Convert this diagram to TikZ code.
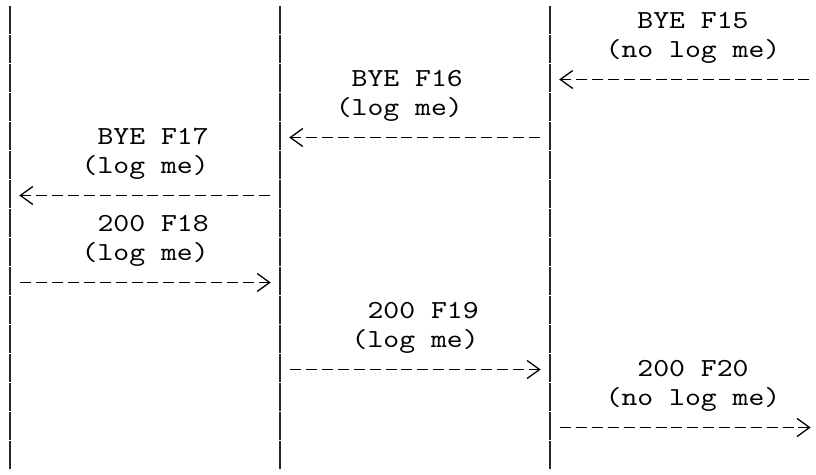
\documentclass[tikz,border=0pt]{standalone}
\usepackage{fontspec}
\newfontfamily\monofont{lmmono10-regular.otf}[FakeStretch=1.163]
\usetikzlibrary{arrows.meta}
\begin{document}
\begin{tikzpicture}[x=15.88bp,y=-29bp,every node/.style={font=\monofont\fontsize{26bp}{29bp}\selectfont,inner sep=0pt,anchor=base west},
  lane/.style={line width=1.3bp,black!85,dash pattern=on 28bp off 1bp},
  msg/.style={line width=1.3bp,dash pattern=on 11bp off 4.88bp,-{Straight Barb[length=12.5bp,width=18bp]}}]
\useasboundingbox (0,0) rectangle (51.385,16.345);
\foreach \c/\n in {0.63/la,17.63/lb,34.63/lc} {\coordinate (\n top) at (\c,0.207); \coordinate (\n bot) at (\c,16.207); \draw[lane] (\n top) -- (\n bot);}
\node (f15) at (40.13,0.966) {BYE F15}; \node (f15n) at (38.13,1.966) {(no log me)};
\node (f16) at (22.13,2.966) {BYE F16}; \node (f16n) at (21.13,3.966) {(log me)};
\node (f17) at (6.13,4.966) {BYE F17}; \node (f17n) at (5.13,5.966) {(log me)};
\node (f18) at (6.13,7.966) {200 F18}; \node (f18n) at (5.13,8.966) {(log me)};
\node (f19) at (23.13,10.966) {200 F19}; \node (f19n) at (22.13,11.966) {(log me)};
\node (f20) at (40.13,12.966) {200 F20}; \node (f20n) at (38.13,13.966) {(no log me)};
\foreach \m/\r/\a/\b in {15/2/50.974/35.212,16/4/33.974/18.212,17/6/16.974/1.212,18/9/1.281/17.049,19/12/18.281/34.049,20/14/35.281/51.049}
  {\coordinate (m\m from) at (\a,\r+0.741); \coordinate (m\m to) at (\b,\r+0.741); \draw[msg] (m\m from) -- (m\m to);}
\end{tikzpicture}
\end{document}
